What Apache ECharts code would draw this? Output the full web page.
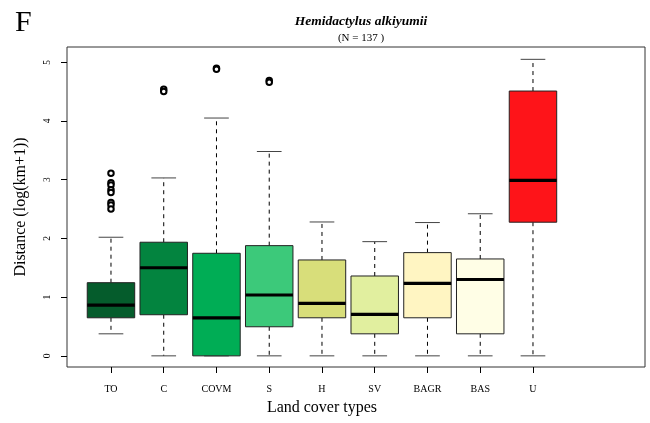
<!DOCTYPE html>
<html>
<head>
<meta charset="utf-8">
<script src="https://cdn.jsdelivr.net/npm/echarts@6/dist/echarts.min.js"></script>
<style>html,body{margin:0;padding:0;background:#fff;}#chart{width:650px;height:423px;}</style>
</head>
<body>
<div id="chart"></div>
<script>
// ---- data ----
var categories = ['TO', 'C', 'COVM', 'S', 'H', 'SV', 'BAGR', 'BAS', 'U'];
var lowerWhisker = [0.375, 0, 0, 0, 0, 0, 0, 0, 0];
var q1 = [0.648, 0.70, 0, 0.495, 0.648, 0.375, 0.648, 0.375, 2.276];
var median = [0.865, 1.50, 0.648, 1.036, 0.894, 0.706, 1.235, 1.30, 2.99];
var q3 = [1.246, 1.935, 1.747, 1.877, 1.633, 1.36, 1.758, 1.65, 4.51];
var upperWhisker = [2.02, 3.03, 4.05, 3.48, 2.28, 1.945, 2.27, 2.42, 5.05];
var outlierCat = ['TO', 'TO', 'TO', 'TO', 'TO', 'TO', 'TO', 'TO', 'C', 'C', 'COVM', 'COVM', 'S', 'S'];
var outlierVal = [3.11, 2.95, 2.91, 2.83, 2.78, 2.61, 2.57, 2.50, 4.54, 4.50, 4.90, 4.88, 4.69, 4.66];
var yTicks = [0, 1, 2, 3, 4, 5];
var boxColors = ['#055c2c', '#03843f', '#00ad55', '#3cc97a', '#d8de7a', '#e1ef9f', '#fff5c2', '#fffee6', '#fe1419'];

var boxData = categories.map(function (c, i) {
  return [i, lowerWhisker[i], q1[i], median[i], q3[i], upperWhisker[i]];
});
var outlierData = outlierCat.map(function (c, i) { return [c, outlierVal[i]]; });

var chart = echarts.init(document.getElementById('chart'), null, {renderer: 'canvas'});
var serif = 'Liberation Serif';

function renderBox(params, api) {
  var idx = api.value(0);
  var band = api.size([1, 0])[0];
  var bw = band * 0.9;
  var cw = bw * 0.52;
  var pLo = api.coord([idx, api.value(1)]);
  var pQ1 = api.coord([idx, api.value(2)]);
  var pMed = api.coord([idx, api.value(3)]);
  var pQ3 = api.coord([idx, api.value(4)]);
  var pHi = api.coord([idx, api.value(5)]);
  var x = pMed[0];
  var dash = {stroke: '#000', lineWidth: 1, lineDash: [4, 4]};
  var cap = {stroke: '#444', lineWidth: 1};
  return {
    type: 'group',
    children: [
      {type: 'line', shape: {x1: x, y1: pQ3[1], x2: x, y2: pHi[1]}, style: dash},
      {type: 'line', shape: {x1: x, y1: pQ1[1], x2: x, y2: pLo[1]}, style: dash},
      {type: 'line', shape: {x1: x - cw / 2, y1: pHi[1], x2: x + cw / 2, y2: pHi[1]}, style: cap},
      {type: 'line', shape: {x1: x - cw / 2, y1: pLo[1], x2: x + cw / 2, y2: pLo[1]}, style: cap},
      {type: 'rect', shape: {x: x - bw / 2, y: pQ3[1], width: bw, height: pQ1[1] - pQ3[1]},
        style: {fill: boxColors[idx], stroke: '#222', lineWidth: 1}},
      {type: 'line', shape: {x1: x - bw / 2, y1: pMed[1], x2: x + bw / 2, y2: pMed[1]},
        style: {stroke: '#000', lineWidth: 3.2}}
    ]
  };
}

var option = {
  animation: false,
  backgroundColor: '#fff',
  title: [
    {text: 'F', left: 10, top: 3, textStyle: {fontFamily: serif, fontSize: 30, fontWeight: 'normal', color: '#000'}},
    {text: 'Hemidactylus alkiyumii', left: 356, top: 10, textAlign: 'center',
      textStyle: {fontFamily: serif, fontSize: 13.5, fontStyle: 'italic', fontWeight: 'bold', color: '#000'},
      subtext: '(N = 137 )', itemGap: 4,
      subtextStyle: {fontFamily: serif, fontSize: 11, color: '#000'}}
  ],
  grid: [
    {left: 67, right: 5, top: 47, bottom: 56, show: true, borderColor: '#333', borderWidth: 1, backgroundColor: 'transparent'},
    {left: 84.6, width: 474.75, top: 47, bottom: 56}
  ],
  xAxis: [
    {gridIndex: 0, type: 'value', show: false, min: 0, max: 1},
    {gridIndex: 1, type: 'category', data: categories,
      axisLine: {show: false, onZero: false},
      axisTick: {show: true, alignWithLabel: true, length: 6, lineStyle: {color: '#000'}},
      axisLabel: {fontFamily: serif, fontSize: 10, color: '#000', margin: 17},
      name: 'Land cover types', nameLocation: 'middle', nameGap: 33,
      nameTextStyle: {fontFamily: serif, fontSize: 16, color: '#000'}}
  ],
  yAxis: [
    {gridIndex: 0, type: 'value', show: false, min: 0, max: 1},
    {gridIndex: 1, type: 'value', min: -0.19, max: 5.26, offset: 17.6,
      splitLine: {show: false},
      axisLine: {show: false, onZero: false},
      axisTick: {show: true, length: 6, lineStyle: {color: '#000'}, customValues: yTicks},
      axisLabel: {fontFamily: serif, fontSize: 9.5, color: '#000', rotate: 90, margin: 15, customValues: yTicks},
      name: 'Distance (log(km+1))', nameLocation: 'middle', nameGap: 38,
      nameTextStyle: {fontFamily: serif, fontSize: 16, color: '#000'}}
  ],
  series: [
    {type: 'custom', xAxisIndex: 1, yAxisIndex: 1, data: boxData, renderItem: renderBox,
      encode: {x: 0, y: [1, 2, 3, 4, 5]}, z: 2},
    {type: 'scatter', xAxisIndex: 1, yAxisIndex: 1, data: outlierData, z: 5,
      symbol: 'emptyCircle', symbolSize: 5.5,
      itemStyle: {color: '#000', borderColor: '#000', borderWidth: 1.8, opacity: 1}}
  ]
};
chart.setOption(option);
</script>
</body>
</html>
